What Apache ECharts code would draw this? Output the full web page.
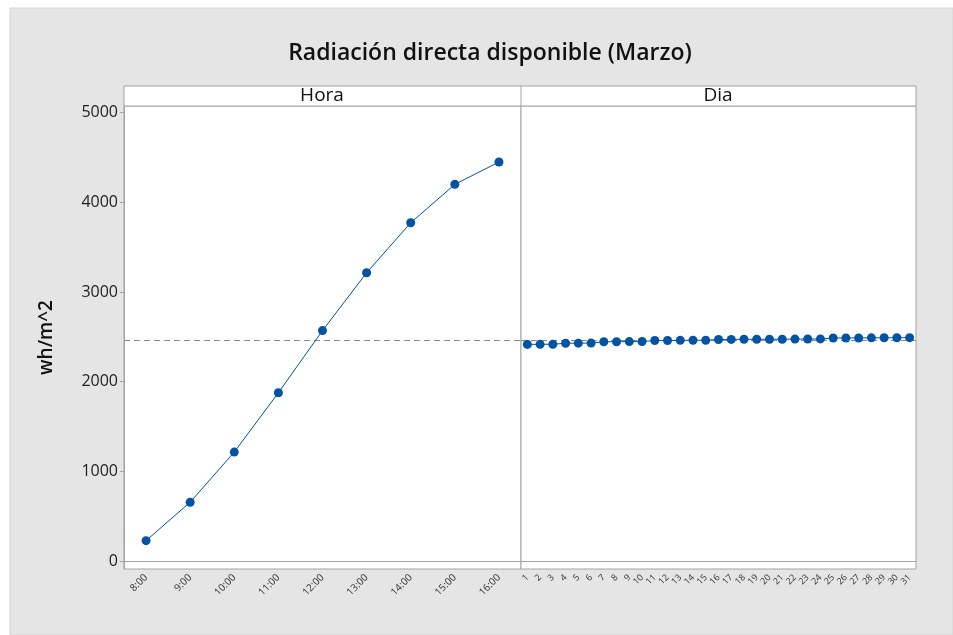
<!DOCTYPE html>
<html>
<head>
<meta charset="utf-8">
<script src="https://cdn.jsdelivr.net/npm/echarts@6/dist/echarts.min.js"></script>
<style>
  html, body { margin: 0; padding: 0; background: #fff; }
  #main { width: 953px; height: 635px; }
</style>
</head>
<body>
<div id="main"></div>
<script>
// datos
var horas = ['8:00', '9:00', '10:00', '11:00', '12:00', '13:00', '14:00', '15:00', '16:00']
var radHora = [227, 656, 1215, 1877, 2570, 3215, 3773, 4201, 4450]
var dias = ['1', '2', '3', '4', '5', '6', '7', '8', '9', '10', '11', '12', '13', '14', '15', '16',
  '17', '18', '19', '20', '21', '22', '23', '24', '25', '26', '27', '28', '29', '30', '31']
var radDia = [2416, 2417, 2418, 2429, 2430, 2431, 2445, 2446, 2447, 2448, 2459, 2460, 2461, 2462, 2462,
  2471, 2472, 2473, 2473, 2474, 2474, 2475, 2476, 2477, 2487, 2488, 2488, 2489, 2490, 2490, 2491]
var media = 2465
var yTicks = [0, 1000, 2000, 3000, 4000, 5000]

var azul = '#0353a4'
var gris = '#a3a3a3'
var fuente = 'Open Sans'

var myChart = echarts.init(document.getElementById('main'))

function serie (idx, data) {
  return {
    type: 'line',
    xAxisIndex: idx,
    yAxisIndex: idx,
    data: data,
    symbol: 'circle',
    symbolSize: 9,
    itemStyle: { color: azul },
    lineStyle: { color: azul, width: 1 },
    z: 3,
    markLine: {
      silent: true,
      symbol: 'none',
      label: { show: false },
      lineStyle: { color: '#8a8a8a', type: [6, 4], width: 1 },
      data: [{ yAxis: media }],
      z: 2
    }
  }
}

function ejeY (idx) {
  return {
    type: 'value',
    gridIndex: idx,
    min: -89,
    max: 5075,
    name: idx === 0 ? 'wh/m^2' : '',
    nameLocation: 'middle',
    nameGap: 68,
    nameRotate: 90,
    nameTextStyle: { fontFamily: fuente, fontSize: 19, fontWeight: 600, color: '#111' },
    splitLine: { show: false },
    axisLine: { show: idx === 0, lineStyle: { color: gris } },
    axisTick: { show: idx === 0, length: 4, lineStyle: { color: gris }, customValues: yTicks },
    axisLabel: {
      show: idx === 0, customValues: yTicks, margin: 6,
      formatter: function (v) { return String(v) },
      fontFamily: fuente, fontSize: 16, color: '#222'
    }
  }
}

function ejeX (idx, cats, size) {
  return {
    type: 'category',
    gridIndex: idx,
    data: cats,
    boundaryGap: true,
    axisLine: { lineStyle: { color: gris } },
    axisTick: { alignWithLabel: true, length: 4, lineStyle: { color: gris } },
    axisLabel: {
      interval: 0, rotate: 45, margin: 7,
      fontFamily: fuente, fontSize: size, color: '#333'
    }
  }
}

var option = {
  animation: false,
  backgroundColor: '#fff',
  title: {
    text: 'Radiación directa disponible (Marzo)',
    left: 485,
    textAlign: 'center',
    top: 37,
    textStyle: { fontFamily: fuente, fontSize: 23, fontWeight: 600, color: '#111' }
  },
  graphic: [
    { type: 'rect', shape: { x: 10, y: 8, width: 943, height: 627 }, style: { fill: '#e5e5e5', stroke: '#d4d4d4' }, z: -10 },
    { type: 'rect', shape: { x: 124, y: 86, width: 792, height: 20 }, style: { fill: '#fff', stroke: gris, lineWidth: 1 } },
    { type: 'line', shape: { x1: 521, y1: 86, x2: 521, y2: 106 }, style: { stroke: gris, lineWidth: 1 } },
    { type: 'text', x: 322, y: 96, style: { text: 'Hora', fontFamily: fuente, fontSize: 19, fill: '#111', align: 'center', verticalAlign: 'middle' } },
    { type: 'text', x: 718, y: 96, style: { text: 'Dia', fontFamily: fuente, fontSize: 19, fill: '#111', align: 'center', verticalAlign: 'middle' } }
  ],
  grid: [
    { left: 124, top: 106, width: 397, height: 463, show: true, backgroundColor: '#fff', borderColor: gris, borderWidth: 1 },
    { left: 521, top: 106, width: 395, height: 463, show: true, backgroundColor: '#fff', borderColor: gris, borderWidth: 1 }
  ],
  xAxis: [ejeX(0, horas, 10), ejeX(1, dias, 9)],
  yAxis: [ejeY(0), ejeY(1)],
  series: [serie(0, radHora), serie(1, radDia)]
}

myChart.setOption(option)
</script>
</body>
</html>
